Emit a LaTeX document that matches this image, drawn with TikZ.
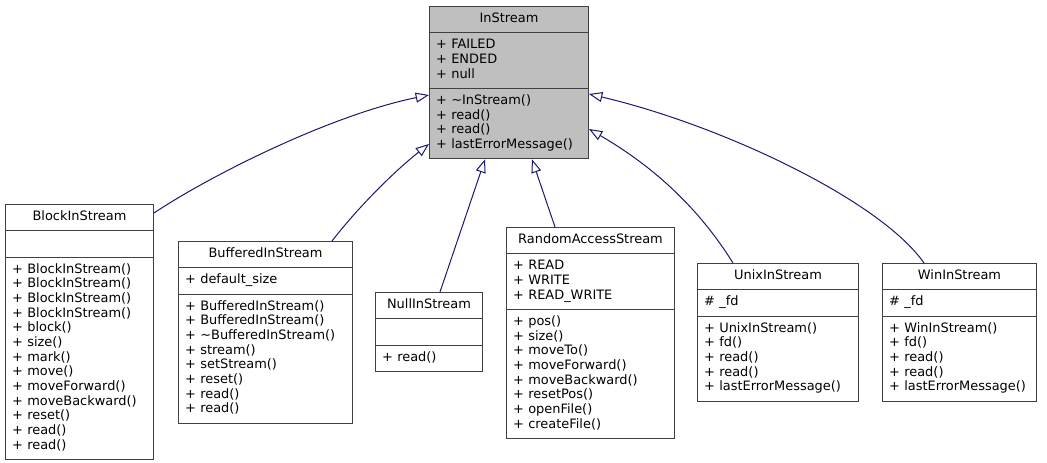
\documentclass[tikz,border=0pt]{standalone}
\usepackage{fontspec}
\setmainfont{DejaVu Sans}
\usetikzlibrary{shapes.multipart,arrows.meta,calc}
\definecolor{edgeblue}{HTML}{191970}
\definecolor{boxline}{HTML}{404040}
\newcommand{\clsname}[1]{\makebox[\hsize]{\strut#1}}
\tikzset{
  cls/.style={rectangle split, rectangle split parts=3, draw=boxline, fill=white,
    line width=0.75pt, anchor=north west, align=left, text width=#1,
    inner xsep=5pt, inner ysep=4pt, font=\fontsize{9.7}{11}\selectfont},
  inherit/.style={draw=edgeblue, line width=0.75pt, -{Triangle[open,length=10pt,width=7.5pt]}}
}
\begin{document}
\begin{tikzpicture}[x=0.75pt,y=-0.75pt]
\useasboundingbox (0,0) rectangle (1047,463);
\node[cls=109.25pt, fill=black!25] (ins) at (429,6) {\clsname{InStream}
  \nodepart{two}\strut + FAILED\\ + ENDED\\ + null\strut
  \nodepart{three}\strut + \textasciitilde InStream()\\ + read()\\ + read()\\ + lastErrorMessage()\strut};
\node[cls=101pt] (blk) at (5,204) {\clsname{BlockInStream}
  \nodepart{two}\strut
  \nodepart{three}\strut + BlockInStream()\\ + BlockInStream()\\ + BlockInStream()\\ + BlockInStream()\\
  + block()\\ + size()\\ + mark()\\ + move()\\ + moveForward()\\ + moveBackward()\\ + reset()\\ + read()\\ + read()\strut};
\node[cls=120.5pt] (buf) at (178,241) {\clsname{BufferedInStream}
  \nodepart{two}\strut + default\_size\strut
  \nodepart{three}\strut + BufferedInStream()\\ + BufferedInStream()\\ + \textasciitilde BufferedInStream()\\ + stream()\\
  + setStream()\\ + reset()\\ + read()\\ + read()\strut};
\node[cls=70.25pt] (nul) at (375,292) {\clsname{NullInStream}
  \nodepart{two}\strut
  \nodepart{three}\strut + read()\strut};
\node[cls=116pt] (ras) at (506,227) {\clsname{RandomAccessStream}
  \nodepart{two}\strut + READ\\ + WRITE\\ + READ\_WRITE\strut
  \nodepart{three}\strut + pos()\\ + size()\\ + moveTo()\\ + moveForward()\\ + moveBackward()\\
  + resetPos()\\ + openFile()\\ + createFile()\strut};
\node[cls=110.75pt] (unx) at (697,263) {\clsname{UnixInStream}
  \nodepart{two}\strut \# \_fd\strut
  \nodepart{three}\strut + UnixInStream()\\ + fd()\\ + read()\\ + read()\\ + lastErrorMessage()\strut};
\node[cls=105.5pt] (win) at (882,263) {\clsname{WinInStream}
  \nodepart{two}\strut \# \_fd\strut
  \nodepart{three}\strut + WinInStream()\\ + fd()\\ + read()\\ + read()\\ + lastErrorMessage()\strut};
\draw[inherit] ($(blk.north east)+(0,9)$) .. controls +(57,-38) and +(-98,20) .. ($(ins.north west)+(0,89)$);
\draw[inherit] ($(buf.north west)+(154,0)$) .. controls +(28,-36) and +(-33,26) .. ($(ins.north west)+(0,138)$);
\draw[inherit] ($(nul.north west)+(65,0)$) -- ($(ins.south west)+(56,0)$);
\draw[inherit] ($(ras.north west)+(49,0)$) -- ($(ins.south west)+(103,0)$);
\draw[inherit] ($(unx.north west)+(36,0)$) .. controls +(-33,-53) and +(67,39) .. ($(ins.north east)+(0,123)$);
\draw[inherit] ($(win.north west)+(42,0)$) .. controls +(-44,-63) and +(132,31) .. ($(ins.north east)+(0,88)$);
\end{tikzpicture}
\end{document}
